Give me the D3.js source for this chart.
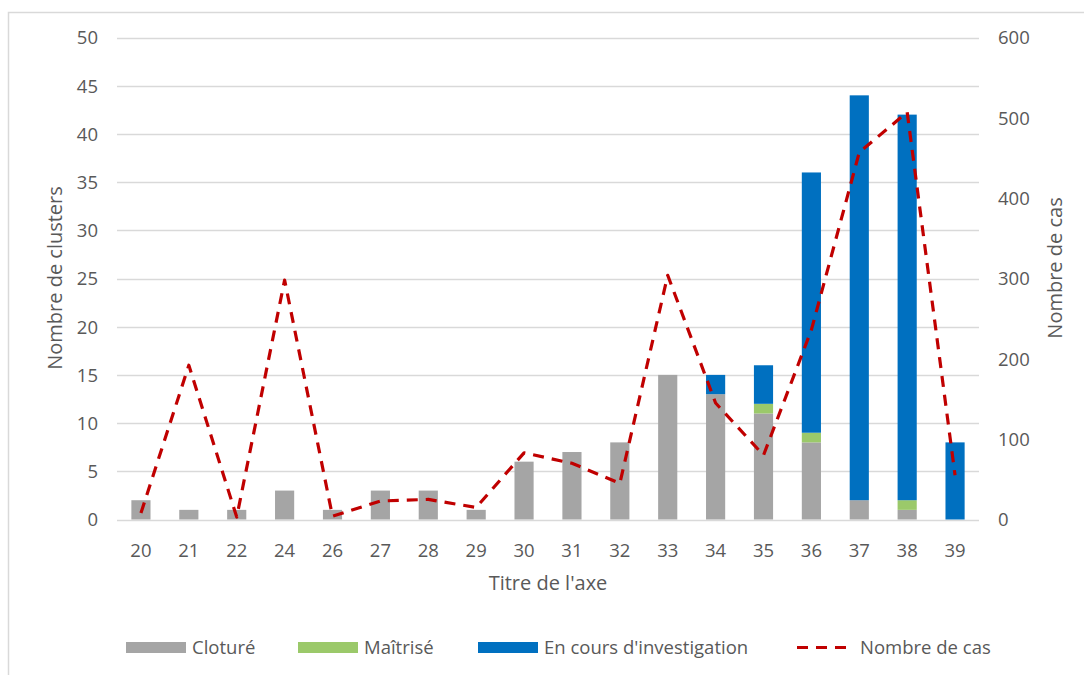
<!DOCTYPE html>
<html>
<head>
<meta charset="utf-8">
<script src="https://cdn.jsdelivr.net/npm/d3@7"></script>
<style>
  html, body { margin: 0; padding: 0; background: #fff; }
  svg text { font-family: "Open Sans", "Noto Sans", sans-serif; fill: #595959; }
</style>
</head>
<body>
<svg id="chart" width="1084" height="675"></svg>
<script>
// Weekly clusters by status, plus case count on the secondary axis
const semaines = ["20","21","22","24","26","27","28","29","30","31","32","33","34","35","36","37","38","39"];
const cloture  = [2, 1, 1, 3, 1, 3, 3, 1, 6, 7, 8, 15, 13, 11, 8, 2, 1, 0];
const maitrise = [0, 0, 0, 0, 0, 0, 0, 0, 0, 0, 0, 0, 0, 1, 1, 0, 1, 0];
const enCours  = [0, 0, 0, 0, 0, 0, 0, 0, 0, 0, 0, 0, 2, 4, 27, 42, 40, 8];
const nombreCas = [8, 192, 3, 298, 4, 23, 25, 15, 83, 70, 45, 304, 145, 80, 236, 457, 507, 55];
const ticksGauche = [0, 5, 10, 15, 20, 25, 30, 35, 40, 45, 50];
const ticksDroite = [0, 100, 200, 300, 400, 500, 600];

const seriesNames = ["Cloturé", "Maîtrisé", "En cours d'investigation"];
const seriesKeys = ["cloture", "maitrise", "enCours"];
const colors = { cloture: "#a5a5a5", maitrise: "#9bc96a", enCours: "#0070c0" };
const lineColor = "#c00000";

const rows = semaines.map((s, i) => ({ semaine: s, cloture: cloture[i], maitrise: maitrise[i], enCours: enCours[i], cas: nombreCas[i] }));

const svg = d3.select("#chart");
const plot = { left: 117, right: 979, top: 37.5, bottom: 519.5 };
const labelSize = "18.5px";
const titleSize = "20px";

// chart frame
svg.append("rect")
  .attr("x", 8.5).attr("y", 12.5).attr("width", 1090).attr("height", 700)
  .attr("fill", "none").attr("stroke", "#d9d9d9").attr("stroke-width", 1.5);

const x = d3.scaleBand().domain(semaines).range([plot.left, plot.right]).paddingInner(0.6).paddingOuter(0.3);
const yL = d3.scaleLinear().domain([0, 50]).range([plot.bottom, plot.top]);
const yR = d3.scaleLinear().domain([0, 600]).range([plot.bottom, plot.top]);

// gridlines
svg.append("g").selectAll("line").data(ticksGauche).join("line")
  .attr("x1", plot.left).attr("x2", plot.right)
  .attr("y1", d => Math.round(yL(d)) + 0.5).attr("y2", d => Math.round(yL(d)) + 0.5)
  .attr("stroke", "#d9d9d9").attr("stroke-width", 1.3);

// left axis labels
const axL = svg.append("g").attr("transform", `translate(${plot.left - 19},0)`)
  .call(d3.axisLeft(yL).tickValues(ticksGauche).tickSize(0).tickPadding(0));
axL.select(".domain").remove();
axL.selectAll("text").style("font-size", labelSize).attr("fill", "#595959").attr("dy", "0.35em");

// right axis labels
const axR = svg.append("g").attr("transform", `translate(${plot.right + 19},0)`)
  .call(d3.axisRight(yR).tickValues(ticksDroite).tickSize(0).tickPadding(0));
axR.select(".domain").remove();
axR.selectAll("text").style("font-size", labelSize).attr("fill", "#595959").attr("dy", "0.35em");

// category axis labels
const axB = svg.append("g").attr("transform", `translate(0,${plot.bottom + 31})`)
  .call(d3.axisBottom(x).tickSize(0).tickPadding(0));
axB.select(".domain").remove();
axB.selectAll("text").style("font-size", labelSize).attr("fill", "#595959").attr("dy", "0.35em");

// stacked bars
const stack = d3.stack().keys(seriesKeys)(rows);
svg.append("g").selectAll("g").data(stack).join("g")
  .attr("fill", d => colors[d.key])
  .selectAll("rect").data(d => d).join("rect")
  .attr("x", d => x(d.data.semaine))
  .attr("width", x.bandwidth())
  .attr("y", d => yL(d[1]))
  .attr("height", d => yL(d[0]) - yL(d[1]));

// case count line
const xc = d => x(d.semaine) + x.bandwidth() / 2;
svg.append("path").datum(rows)
  .attr("fill", "none").attr("stroke", lineColor).attr("stroke-width", 3.2)
  .attr("stroke-dasharray", "11,8").attr("stroke-linejoin", "round")
  .attr("d", d3.line().x(xc).y(d => yR(d.cas)));

// axis titles
svg.append("text").attr("x", 548).attr("y", 583).attr("dy", "0.35em").attr("text-anchor", "middle")
  .style("font-size", titleSize).text("Titre de l'axe");
svg.append("text").attr("transform", "translate(55,278) rotate(-90)").attr("dy", "0.35em").attr("text-anchor", "middle")
  .style("font-size", titleSize).text("Nombre de clusters");
svg.append("text").attr("transform", "translate(1055,268) rotate(-90)").attr("dy", "0.35em").attr("text-anchor", "middle")
  .style("font-size", titleSize).text("Nombre de cas");

// legend
const legend = svg.append("g");
const legendX = [126, 298, 478];
seriesKeys.forEach((k, i) => {
  legend.append("rect").attr("x", legendX[i]).attr("y", 642).attr("width", 60).attr("height", 11).attr("fill", colors[k]);
  legend.append("text").attr("x", legendX[i] + 66).attr("y", 647.5).attr("dy", "0.35em")
    .style("font-size", labelSize).text(seriesNames[i]);
});
legend.append("line").attr("x1", 797).attr("x2", 853).attr("y1", 647.5).attr("y2", 647.5)
  .attr("stroke", lineColor).attr("stroke-width", 3.2).attr("stroke-dasharray", "11,8");
legend.append("text").attr("x", 860).attr("y", 647.5).attr("dy", "0.35em")
  .style("font-size", labelSize).text("Nombre de cas");
</script>
</body>
</html>
